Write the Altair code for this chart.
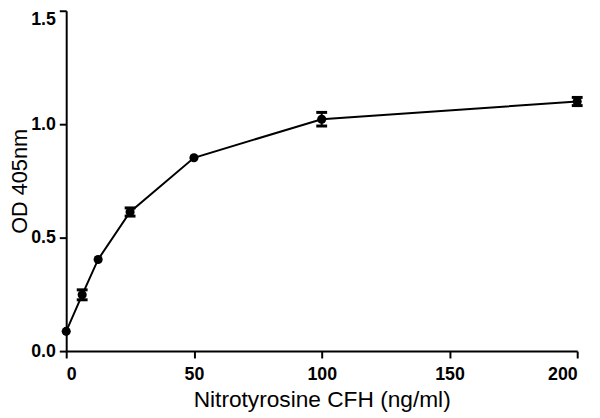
import altair as alt
import pandas as pd

conc = [0, 6.25, 12.5, 25, 50, 100, 200]
od = [0.087, 0.248, 0.404, 0.613, 0.852, 1.022, 1.100]
err = [0.0, 0.022, 0.0, 0.018, 0.0, 0.030, 0.018]

df = pd.DataFrame({"conc": conc, "od": od, "err": err})
df["lo"] = df["od"] - df["err"]
df["hi"] = df["od"] + df["err"]
eb = df[df["err"] > 0]

x = alt.X("conc:Q", scale=alt.Scale(domain=[0, 200], nice=False),
          axis=alt.Axis(values=[0, 50, 100, 150, 200], title="Nitrotyrosine CFH (ng/ml)",
                        labelPadding=8, titleFontSize=23, titleBaseline="alphabetic",
                        titleY=56))
y = alt.Y("od:Q", scale=alt.Scale(domain=[0, 1.5], nice=False),
          axis=alt.Axis(values=[0, 0.5, 1.0, 1.5], format=".1f", title="OD 405nm",
                        labelPadding=4, titleFontSize=22, titleBaseline="alphabetic",
                        titleX=-40,
                        labelBaseline={"condition": {"test": "datum.value >= 1.5", "value": "top"},
                                       "value": "middle"}))

line = alt.Chart(df).mark_line(color="black", strokeWidth=2).encode(x=x, y=y)
pts = alt.Chart(df).mark_circle(color="black", opacity=1, size=85).encode(x="conc:Q", y="od:Q")
rules = alt.Chart(eb).mark_rule(color="black", strokeWidth=2).encode(
    x="conc:Q", y="lo:Q", y2="hi:Q")
cap_lo = alt.Chart(eb).mark_tick(color="black", orient="horizontal", size=11, thickness=3, opacity=1).encode(
    x="conc:Q", y="lo:Q")
cap_hi = alt.Chart(eb).mark_tick(color="black", orient="horizontal", size=11, thickness=3, opacity=1).encode(
    x="conc:Q", y="hi:Q")

chart = alt.layer(line, rules, cap_lo, cap_hi, pts).properties(
    width=518, height=345,
    autosize=alt.AutoSizeParams(type="none"),
    padding={"left": 59, "top": 0, "right": 15, "bottom": 62},
).configure_view(stroke=None).configure_axis(
    domainColor="black", domainWidth=2, tickColor="black", tickWidth=2, tickSize=7,
    grid=False, labelFont="Liberation Sans", labelFontWeight="bold", labelFontSize=18,
    labelColor="black", titleFont="Liberation Sans", titleFontWeight="normal",
    titleColor="black",
)

chart.save("out.html", embed_options={"renderer": "svg", "actions": False})
